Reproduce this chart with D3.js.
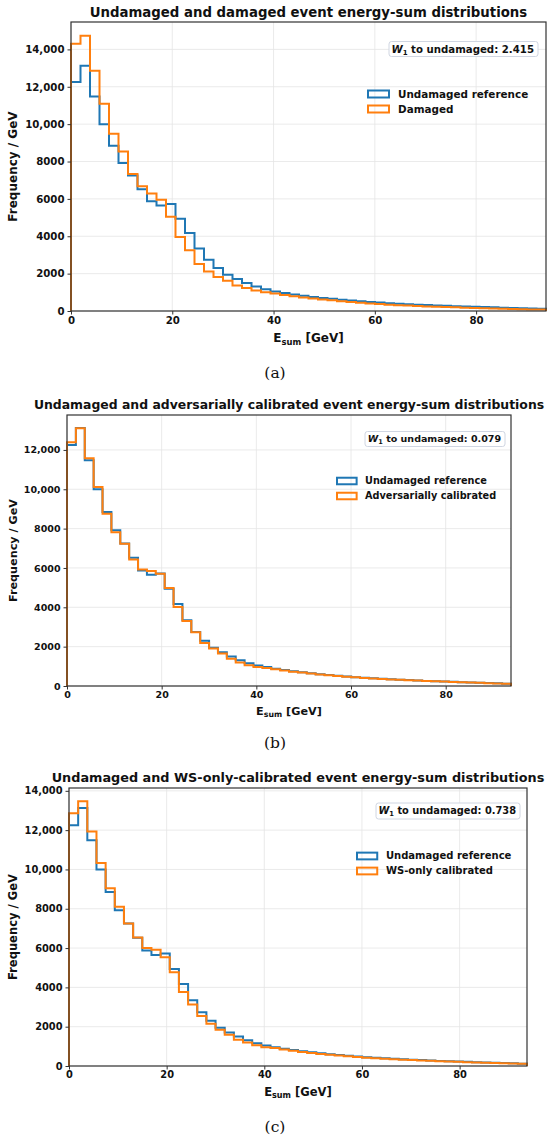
<!DOCTYPE html>
<html>
<head>
<meta charset="utf-8" />
<title>Energy-sum distributions</title>
<script src="https://cdn.jsdelivr.net/npm/d3@7"></script>
<style>
  body { margin: 0; background: #fff; }
  svg text { font-family: "DejaVu Sans", sans-serif; fill: #111; }
</style>
</head>
<body>
<div id="chart"></div>
<script>
// histogram range (GeV) and bin count shared by all three panels
const xMax = 93.8;
const nBins = 50;
const xTicks = [0, 20, 40, 60, 80];

// Frequency / GeV per bin
const undamaged = [12250, 13120, 11480, 10000, 8850, 7920, 7250, 6520, 5870, 5650,
  5720, 4940, 4170, 3340, 2740, 2300, 1940, 1710, 1500, 1310,
  1160, 1040, 960, 880, 810, 750, 700, 650, 600, 560,
  520, 480, 450, 420, 390, 365, 340, 320, 300, 280,
  260, 245, 230, 210, 195, 180, 165, 150, 135, 120];

const damaged = [14300, 14730, 12860, 11090, 9490, 8540, 7330, 6670, 6290, 5960,
  5050, 3960, 3250, 2510, 2120, 1820, 1620, 1370, 1230, 1100,
  1000, 930, 860, 790, 720, 670, 620, 570, 520, 480,
  440, 400, 370, 340, 310, 290, 265, 245, 225, 210,
  195, 180, 165, 150, 135, 120, 105, 95, 85, 75];

const adversarial = [12390, 13100, 11580, 10110, 8750, 7820, 7230, 6430, 5920, 5840,
  5700, 4980, 4010, 3300, 2730, 2190, 1910, 1650, 1390, 1190,
  1060, 970, 920, 850, 790, 730, 680, 630, 590, 550,
  510, 470, 440, 410, 385, 360, 335, 315, 295, 275,
  255, 240, 225, 205, 190, 175, 160, 145, 130, 115];

const wsOnly = [12860, 13470, 11930, 10330, 9040, 8100, 7250, 6540, 6000, 5910,
  5530, 4770, 3770, 3130, 2540, 2150, 1840, 1590, 1340, 1200,
  1050, 960, 910, 840, 770, 710, 660, 610, 570, 530,
  490, 455, 425, 395, 370, 345, 320, 300, 280, 265,
  245, 230, 215, 195, 180, 165, 150, 138, 125, 110];

const titles = [
  "Undamaged and damaged event energy-sum distributions",
  "Undamaged and adversarially calibrated event energy-sum distributions",
  "Undamaged and WS-only-calibrated event energy-sum distributions"
];
const refLabel = "Undamaged reference";
const otherLabels = ["Damaged", "Adversarially calibrated", "WS-only calibrated"];
const w1Values = ["2.415", "0.079", "0.738"];
const captions = ["(a)", "(b)", "(c)"];
const otherSeries = [damaged, adversarial, wsOnly];

const blue = "#1f77b4", orange = "#ff7f0e";

// where each sub-figure sits on the page
const panels = [
  {left: 71, top: 22, right: 546, bottom: 311, s: 1.0, titleY: 16.5, capY: 378,
   box: [389, 41.5, 538, 56.5], legX: 368, legY: [94, 109]},
  {left: 67, top: 415, right: 511, bottom: 686, s: 0.935, titleY: 408.5, capY: 748,
   box: [365, 431.5, 505, 446.5], legX: 337, legY: [481, 496]},
  {left: 69, top: 788, right: 527, bottom: 1066, s: 0.964, titleY: 781.5, capY: 1132,
   box: [376, 803, 520, 819], legX: 357, legY: [856, 871]}
];

const svg = d3.select("#chart").append("svg")
  .attr("width", 550).attr("height", 1140);

const fmtY = d => d >= 10000 ? d3.format(",")(d) : d3.format("d")(d);
const binW = xMax / nBins;

panels.forEach((p, i) => {
  const s = p.s;
  const ref = undamaged, other = otherSeries[i];
  const yMax = d3.max(ref.concat(other)) * 1.05;
  const x = d3.scaleLinear().domain([0, xMax]).range([p.left, p.right]);
  const y = d3.scaleLinear().domain([0, yMax]).range([p.bottom, p.top]);
  const g = svg.append("g");

  // grid
  const yTicks = d3.range(0, yMax, 2000);
  g.selectAll(".gy").data(yTicks).enter().append("line")
    .attr("x1", p.left).attr("x2", p.right)
    .attr("y1", d => y(d)).attr("y2", d => y(d))
    .attr("stroke", "#e4e4e4").attr("stroke-width", 0.8);
  g.selectAll(".gx").data(xTicks).enter().append("line")
    .attr("y1", p.top).attr("y2", p.bottom)
    .attr("x1", d => x(d)).attr("x2", d => x(d))
    .attr("stroke", "#e4e4e4").attr("stroke-width", 0.8);

  // step histograms
  const line = d3.line().x(d => x(d[0])).y(d => y(d[1])).curve(d3.curveStepAfter);
  function stepPts(vals) {
    const pts = [[0, 0]];
    vals.forEach((v, k) => pts.push([k * binW, v]));
    pts.push([xMax, vals[vals.length - 1]]);
    pts.push([xMax, 0]);
    return pts;
  }
  [[ref, blue], [other, orange]].forEach(([vals, col]) => {
    g.append("path").attr("d", line(stepPts(vals)))
      .attr("fill", "none").attr("stroke", col)
      .attr("stroke-width", 2).attr("stroke-linejoin", "miter");
  });

  // axes
  const xa = g.append("g").attr("transform", `translate(0,${p.bottom})`)
    .call(d3.axisBottom(x).tickValues(xTicks).tickSize(3.5).tickPadding(2).tickFormat(d3.format("d")));
  const ya = g.append("g").attr("transform", `translate(${p.left},0)`)
    .call(d3.axisLeft(y).tickValues(yTicks).tickSize(3.5).tickPadding(3).tickFormat(fmtY));
  [xa, ya].forEach(a => {
    a.select(".domain").remove();
    a.selectAll("line").attr("stroke", "#333");
    a.selectAll("text").attr("font-size", 10.2 * s).attr("font-weight", "bold")
      .attr("font-family", "DejaVu Sans").attr("fill", "#111");
  });

  g.append("rect").attr("x", p.left).attr("y", p.top)
    .attr("width", p.right - p.left).attr("height", p.bottom - p.top)
    .attr("fill", "none").attr("stroke", "#333").attr("stroke-width", 1.2);

  // title
  g.append("text").attr("x", (p.left + p.right) / 2).attr("y", p.titleY)
    .attr("text-anchor", "middle").attr("font-size", 13.3 * s).attr("font-weight", "bold")
    .text(titles[i]);

  // axis labels
  g.append("text")
    .attr("transform", `translate(${17},${(p.top + p.bottom) / 2}) rotate(-90)`)
    .attr("text-anchor", "middle").attr("font-size", 12 * s).attr("font-weight", "bold")
    .text("Frequency / GeV");
  const xl = g.append("text").attr("x", (p.left + p.right) / 2).attr("y", p.bottom + 31 * s)
    .attr("text-anchor", "middle").attr("font-size", 12 * s).attr("font-weight", "bold");
  xl.append("tspan").text("E");
  xl.append("tspan").attr("font-size", 8.4 * s).attr("dy", 2.5 * s).text("sum");
  xl.append("tspan").attr("dy", -2.5 * s).text(" [GeV]");

  // W1 box
  const b = p.box;
  g.append("rect").attr("x", b[0]).attr("y", b[1])
    .attr("width", b[2] - b[0]).attr("height", b[3] - b[1]).attr("rx", 2.5)
    .attr("fill", "#fff").attr("stroke", "#d0d6e2").attr("stroke-width", 1);
  const wt = g.append("text").attr("x", b[2] - 4).attr("y", (b[1] + b[3]) / 2 + 3.6 * s)
    .attr("text-anchor", "end").attr("font-size", 10.2 * s).attr("font-weight", "bold");
  wt.append("tspan").attr("font-style", "italic").text("W");
  wt.append("tspan").attr("font-size", 7 * s).attr("dy", 2 * s).text("1");
  wt.append("tspan").attr("dy", -2 * s).text(" to undamaged: " + w1Values[i]);

  // legend
  [[refLabel, blue], [otherLabels[i], orange]].forEach(([lab, col], k) => {
    const ly = p.legY[k];
    g.append("rect").attr("x", p.legX).attr("y", ly - 3.5 * s)
      .attr("width", 21 * s).attr("height", 7 * s)
      .attr("fill", "none").attr("stroke", col).attr("stroke-width", 2);
    g.append("text").attr("x", p.legX + 30 * s).attr("y", ly + 3.6 * s)
      .attr("font-size", 10.4 * s).attr("font-weight", "bold").text(lab);
  });

  // caption
  svg.append("text").attr("x", 275).attr("y", p.capY)
    .attr("text-anchor", "middle").attr("font-size", 15.5)
    .style("font-family", "'DejaVu Serif', serif").text(captions[i]);
});
</script>
</body>
</html>
